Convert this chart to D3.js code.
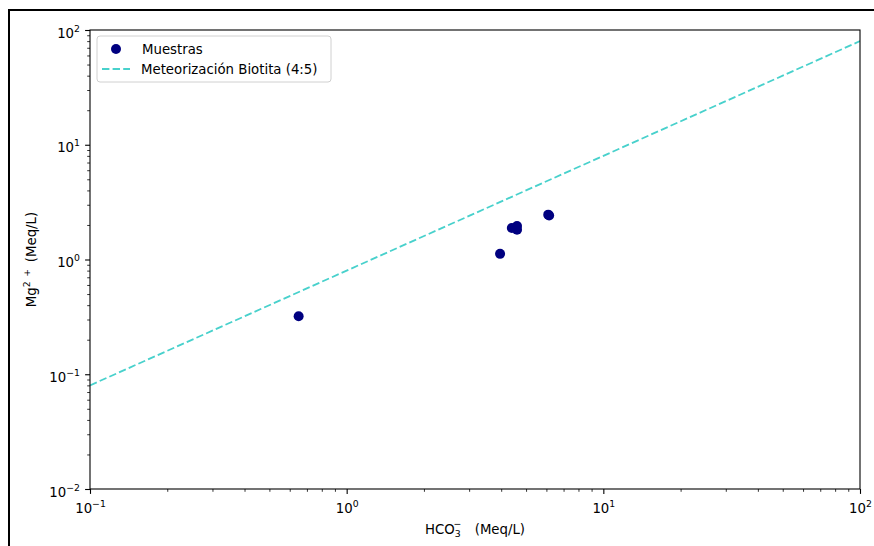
<!DOCTYPE html>
<html><head><meta charset="utf-8">
<script src="https://cdn.jsdelivr.net/npm/d3@7"></script>
<style>body{margin:0;background:#fff}svg{display:block}text{font-family:"DejaVu Sans",sans-serif}</style>
</head><body>
<svg id="c" width="874" height="546"></svg>
<script>
const sampleX = [0.65, 3.96, 4.40, 4.61, 4.61, 6.10, 6.15];
const sampleY = [0.32, 1.12, 1.88, 1.96, 1.82, 2.46, 2.42];
const lineX = [0.1, 100];
const lineY = [0.08, 80];
const xMajor = [0.1, 1, 10, 100];
const xMajorExp = ["−1", "0", "1", "2"];
const yMajor = [0.01, 0.1, 1, 10, 100];
const yMajorExp = ["−2", "−1", "0", "1", "2"];
const legendLabels = ["Muestras", "Meteorización Biotita (4:5)"];

const svg = d3.select("#c");
const m = {l: 90, r: 860, t: 30, b: 489};
const FS = 13.3;

// figure border
svg.append("rect").attr("x", 9).attr("y", 10).attr("width", 900).attr("height", 600)
  .attr("fill", "none").attr("stroke", "#000").attr("stroke-width", 2);

const x = d3.scaleLog().domain([0.1, 100]).range([m.l, m.r]);
const y = d3.scaleLog().domain([0.01, 100]).range([m.b, m.t]);

function minors(lo, hi) {
  const out = [];
  for (let e = Math.round(Math.log10(lo)); e < Math.round(Math.log10(hi)); e++)
    for (let k = 2; k <= 9; k++) out.push(k * Math.pow(10, e));
  return out;
}

// minor ticks
svg.append("g").attr("transform", `translate(0,${m.b})`)
  .call(d3.axisBottom(x).tickValues(minors(0.1, 100)).tickSize(2.8).tickFormat(() => ""))
  .call(g => g.select(".domain").remove())
  .selectAll("line").attr("stroke", "#000").attr("stroke-width", 0.8);
svg.append("g").attr("transform", `translate(${m.l},0)`)
  .call(d3.axisLeft(y).tickValues(minors(0.01, 100)).tickSize(2.8).tickFormat(() => ""))
  .call(g => g.select(".domain").remove())
  .selectAll("line").attr("stroke", "#000").attr("stroke-width", 0.8);

// major ticks
const gx = svg.append("g").attr("transform", `translate(0,${m.b})`)
  .call(d3.axisBottom(x).tickValues(xMajor).tickSize(4.9).tickPadding(10).tickFormat(() => ""));
gx.select(".domain").remove();
gx.selectAll("line").attr("stroke", "#000").attr("stroke-width", 1.1);
gx.selectAll("text").each(function(d, i) {
  const t = d3.select(this).attr("fill", "#000").attr("font-size", FS).attr("y", 24).attr("dy", null);
  t.append("tspan").text("10");
  t.append("tspan").attr("font-size", FS * 0.7).attr("dy", -6).text(xMajorExp[i]);
});

const gy = svg.append("g").attr("transform", `translate(${m.l},0)`)
  .call(d3.axisLeft(y).tickValues(yMajor).tickSize(4.9).tickPadding(8).tickFormat(() => ""));
gy.select(".domain").remove();
gy.selectAll("line").attr("stroke", "#000").attr("stroke-width", 1.1);
gy.selectAll("text").each(function(d, i) {
  const t = d3.select(this).attr("fill", "#000").attr("font-size", FS).attr("x", -10).attr("dy", null).attr("y", 7);
  t.append("tspan").text("10");
  t.append("tspan").attr("font-size", FS * 0.7).attr("dy", -6).text(yMajorExp[i]);
});

// plot clip
svg.append("clipPath").attr("id", "clip").append("rect")
  .attr("x", m.l).attr("y", m.t).attr("width", m.r - m.l).attr("height", m.b - m.t);

// line
const lineData = lineX.map((v, i) => [v, lineY[i]]);
svg.append("path").datum(lineData).attr("clip-path", "url(#clip)")
  .attr("d", d3.line().x(d => x(d[0])).y(d => y(d[1])))
  .attr("fill", "none").attr("stroke", "#48D1CC").attr("stroke-width", 1.8)
  .attr("stroke-dasharray", "7.4,3.2");

// points
svg.append("g").selectAll("circle").data(sampleX.map((v, i) => [v, sampleY[i]])).join("circle")
  .attr("cx", d => x(d[0])).attr("cy", d => y(d[1])).attr("r", 5).attr("fill", "#000080");

// spines
svg.append("rect").attr("x", m.l).attr("y", m.t).attr("width", m.r - m.l).attr("height", m.b - m.t)
  .attr("fill", "none").attr("stroke", "#000").attr("stroke-width", 1.1);

// legend
const lg = svg.append("g");
lg.append("rect").attr("x", 97).attr("y", 36).attr("width", 234).attr("height", 46).attr("rx", 3)
  .attr("fill", "#fff").attr("fill-opacity", 0.8).attr("stroke", "#d0d0d0").attr("stroke-width", 1);
lg.append("circle").attr("cx", 116).attr("cy", 49).attr("r", 5).attr("fill", "#000080");
lg.append("line").attr("x1", 102).attr("x2", 130).attr("y1", 69).attr("y2", 69)
  .attr("stroke", "#48D1CC").attr("stroke-width", 1.8).attr("stroke-dasharray", "7.4,3.2");
lg.append("text").attr("x", 142).attr("y", 53.5).attr("font-size", FS).attr("fill", "#000").text(legendLabels[0]);
lg.append("text").attr("x", 141).attr("y", 73.5).attr("font-size", FS).attr("fill", "#000").text(legendLabels[1]);

// axis labels
const xl = svg.append("text").attr("x", (m.l + m.r) / 2).attr("y", 534).attr("text-anchor", "middle")
  .attr("font-size", FS).attr("fill", "#000");
xl.append("tspan").text("HCO");
xl.append("tspan").attr("font-size", FS * 0.7).attr("dy", 3).text("3");
xl.append("tspan").attr("font-size", FS * 0.7).attr("dx", -7).attr("dy", -10).text("−");
xl.append("tspan").attr("dy", 7).text("\u2003(Meq/L)");

const yl = svg.append("text").attr("transform", `translate(36,${(m.t + m.b) / 2}) rotate(-90)`)
  .attr("text-anchor", "middle").attr("font-size", FS).attr("fill", "#000");
yl.append("tspan").text("Mg");
yl.append("tspan").attr("font-size", FS * 0.7).attr("dy", -6).text("2\u2002+");
yl.append("tspan").attr("dy", 6).text("\u2002(Meq/L)");
</script>
</body></html>
